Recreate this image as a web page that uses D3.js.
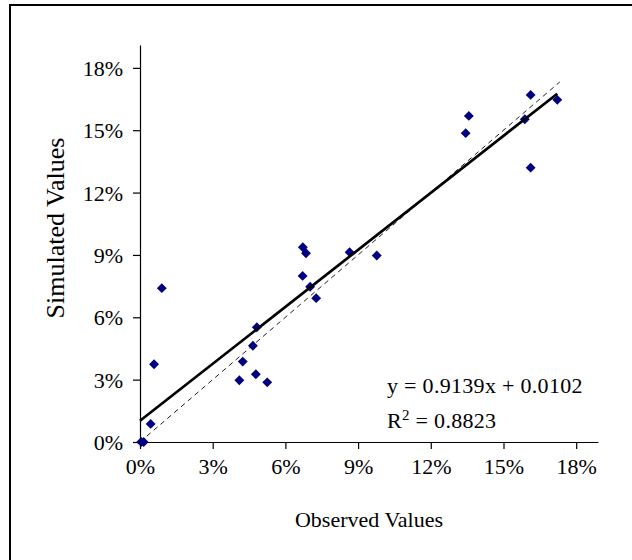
<!DOCTYPE html>
<html>
<head>
<meta charset="utf-8">
<script src="https://cdn.jsdelivr.net/npm/d3@7"></script>
<style>
  html, body { margin: 0; padding: 0; background: #fff; }
  svg { display: block; }
  text { font-family: "Liberation Serif", "Times New Roman", serif; fill: #000; }
</style>
</head>
<body>
<svg id="chart" width="632" height="560"></svg>
<script>
// ---- data ----
const observed  = [0.0005, 0.0015, 0.0044, 0.0058, 0.0090, 0.0410, 0.0424, 0.0466, 0.0478, 0.0482, 0.0525,
                   0.0672, 0.0685, 0.0671, 0.0702, 0.0727, 0.0865, 0.0977, 0.1357, 0.1344, 0.1612, 0.1588, 0.1722, 0.1612];
const simulated = [0.0000, 0.0000, 0.0087, 0.0374, 0.0740, 0.0297, 0.0387, 0.0463, 0.0326, 0.0552, 0.0287,
                   0.0937, 0.0908, 0.0799, 0.0747, 0.0692, 0.0913, 0.0897, 0.1569, 0.1486, 0.1670, 0.1553, 0.1646, 0.1320];
const tickValues = [0, 0.03, 0.06, 0.09, 0.12, 0.15, 0.18];
const tickLabels = ["0%", "3%", "6%", "9%", "12%", "15%", "18%"];
const slope = 0.9139;
const intercept = 0.0102;
const rSquared = 0.8823;
const xTitle = "Observed Values";
const yTitle = "Simulated Values";

// ---- layout ----
const svg = d3.select("#chart");
const fontSize = 22;

// outer frame (cut off at right and bottom)
svg.append("path")
  .attr("d", "M10,562 L10,5 L634,5")
  .attr("fill", "none").attr("stroke", "#000").attr("stroke-width", 2);

const x = d3.scaleLinear().domain([0, 0.189]).range([140, 598]);
const y = d3.scaleLinear().domain([0, 0.191]).range([442, 45]);

// axes
const xAxis = d3.axisBottom(x).tickValues(tickValues)
  .tickFormat((d, i) => tickLabels[i]).tickSizeInner(7).tickSizeOuter(0).tickPadding(9);
const yAxis = d3.axisLeft(y).tickValues(tickValues)
  .tickFormat((d, i) => tickLabels[i]).tickSizeInner(7).tickSizeOuter(0).tickPadding(10);

const gx = svg.append("g").attr("transform", `translate(0,${y(0)})`).call(xAxis);
const gy = svg.append("g").attr("transform", `translate(${x(0)},0)`).call(yAxis);
[gx, gy].forEach(g => {
  g.select(".domain").attr("stroke", "#000").attr("stroke-width", 1.2);
  g.selectAll(".tick line").attr("stroke", "#000").attr("stroke-width", 1.2);
  g.selectAll(".tick text")
    .style("font-family", '"Liberation Serif", "Times New Roman", serif')
    .style("font-size", fontSize + "px").attr("fill", "#000");
});
gy.selectAll(".tick text").attr("dy", "0.34em");
gx.selectAll(".tick text").attr("dy", "0.72em");

// axis titles
svg.append("text")
  .attr("x", 369).attr("y", 527)
  .attr("text-anchor", "middle")
  .style("font-size", fontSize + "px")
  .text(xTitle);

svg.append("text")
  .attr("transform", `translate(64,228) rotate(-90)`)
  .attr("text-anchor", "middle")
  .style("font-size", "26px")
  .text(yTitle);

// y = x reference (dashed)
const xMax = d3.max(observed);
svg.append("line")
  .attr("x1", x(0)).attr("y1", y(0))
  .attr("x2", x(xMax + 0.001)).attr("y2", y(xMax + 0.001))
  .attr("stroke", "#222").attr("stroke-width", 1)
  .attr("stroke-dasharray", "5,4");

// data points (diamonds)
const diamond = d3.symbol().type(d3.symbolDiamond2).size(62);
svg.append("g").selectAll("path")
  .data(observed.map((o, i) => [o, simulated[i]]))
  .join("path")
  .attr("d", diamond)
  .attr("transform", d => `translate(${x(d[0])},${y(d[1])})`)
  .attr("fill", "#000080");

// trend line
svg.append("line")
  .attr("x1", x(0)).attr("y1", y(intercept))
  .attr("x2", x(xMax)).attr("y2", y(slope * xMax + intercept))
  .attr("stroke", "#000").attr("stroke-width", 2.7);

// equation text
svg.append("text")
  .attr("x", 387).attr("y", 393)
  .style("font-size", fontSize + "px")
  .style("letter-spacing", "0.3px")
  .text(`y = ${slope.toFixed(4)}x + ${intercept.toFixed(4)}`);

const r2 = svg.append("text")
  .attr("x", 387).attr("y", 428)
  .style("font-size", fontSize + "px")
  .style("letter-spacing", "0.3px");
r2.append("tspan").text("R");
r2.append("tspan").attr("dy", -8).style("font-size", "15px").text("2");
r2.append("tspan").attr("dy", 8).text(` = ${rSquared.toFixed(4)}`);
</script>
</body>
</html>
